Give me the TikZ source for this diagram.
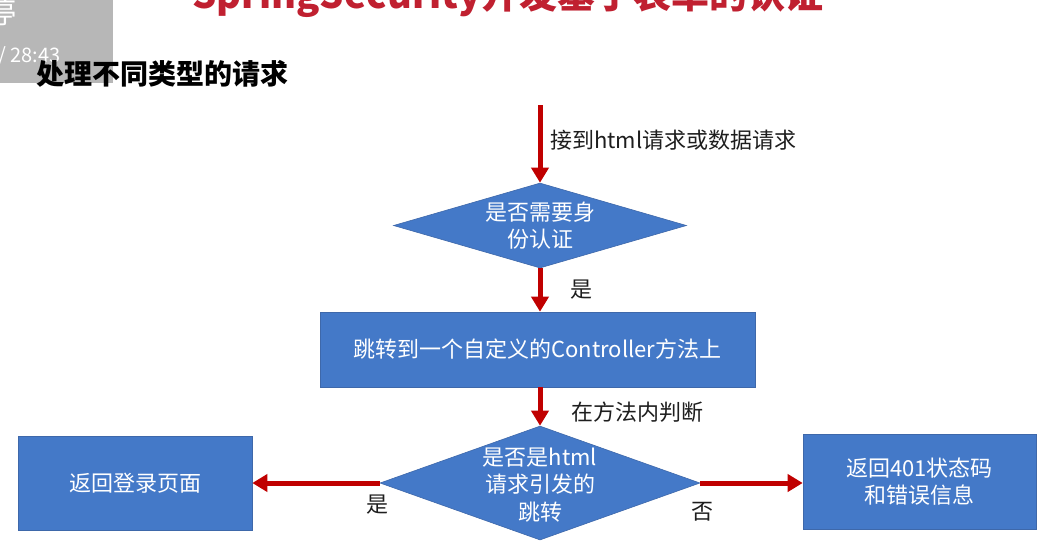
\documentclass[tikz,border=0pt]{standalone}
\usepackage{fontspec}
\setmainfont{Noto Sans CJK SC}
\usepackage{tikz}
\usetikzlibrary{shapes.geometric,arrows.meta,positioning}
\definecolor{BoxBlue}{RGB}{68,121,200}
\definecolor{BoxEdge}{RGB}{62,104,170}
\definecolor{ArrRed}{RGB}{192,0,0}
\definecolor{TitleRed}{RGB}{192,32,48}
\definecolor{LblGray}{RGB}{30,30,30}
\definecolor{OvGray}{RGB}{176,176,176}

\begin{document}
\begin{tikzpicture}[x=1pt,y=-1pt,
  flowarr/.style={ArrRed,line width=5pt,-{Triangle[length=15pt,width=17pt]}},
  boxnode/.style={rectangle,fill=BoxBlue,draw=BoxEdge,line width=0.6pt},
  asknode/.style={diamond,fill=BoxBlue,draw=BoxEdge,line width=0.6pt,inner sep=0pt},
  intxt/.style={text=white,font=\fontsize{22}{27.5}\selectfont,align=center,inner sep=0pt},
  lbl/.style={text=LblGray,font=\fontsize{22}{26}\selectfont,inner sep=0pt}]
\clip (0,0) rectangle (1064,558);
\fill[white] (0,0) rectangle (1064,558);

% heading (cut at the top)
\node[font=\fontsize{38}{38}\selectfont\bfseries,text=TitleRed,anchor=base] (title) at (508,8) {SpringSecurity开发基于表单的认证};
% player overlay
\fill[OvGray,opacity=0.9] (0,0) rectangle (113,83);
\node[font=\fontsize{30}{30}\selectfont,text=white,anchor=east,inner sep=0pt] (pause) at (17,12) {停};
\node[font=\fontsize{20}{20}\selectfont,text=white,anchor=base west,inner sep=0pt] (time) at (-2,62) {/ 28:43};
\node[font=\fontsize{28}{28}\selectfont\bfseries,anchor=base west,inner sep=0pt] (sub) at (36,84) {处理不同类型的请求};

% shapes
\coordinate (in) at (540,105);
\node[asknode,minimum width=293pt,minimum height=85pt] (q1) at (540,225.5) {};
\node[intxt] (q1t) at (q1) {是否需要身\\份认证};
\node[boxnode,minimum width=435pt,minimum height=75pt] (ctrl) at (537.5,349.5) {};
\node[intxt] (ctrlt) at (ctrl) {跳转到一个自定义的Controller方法上};
\node[asknode,minimum width=320pt,minimum height=114pt] (q2) at (540,483) {};
\node[intxt] (q2t) at (540,485) {是否是html\\请求引发的\\跳转};
\node[boxnode,minimum width=234pt,minimum height=94pt] (login) at (135,483) {};
\node[intxt] (logint) at (login) {返回登录页面};
\node[boxnode,minimum width=233pt,minimum height=95pt] (err) at (919.5,481.5) {};
\node[intxt] (errt) at (err) {返回401状态码\\和错误信息};

% arrows
\draw[flowarr] (in) -- (q1.north);
\draw[flowarr] (q1.south) -- (ctrl.north -| q1.south);
\draw[flowarr] (ctrl.south -| q2.north) -- (q2.north);
\draw[flowarr] (q2.west) -- (login.east);
\draw[flowarr] (q2.east) -- (q2.east -| err.west);

% labels
\node[lbl,anchor=west] (lin) at (550,140) {接到html请求或数据请求};
\node[lbl] (lyes1) at (581,290) {是};
\node[lbl] (ljudge) at (637,412) {在方法内判断};
\node[lbl] (lyes2) at (377,505) {是};
\node[lbl] (lno) at (702,512) {否};
\end{tikzpicture}
\end{document}
